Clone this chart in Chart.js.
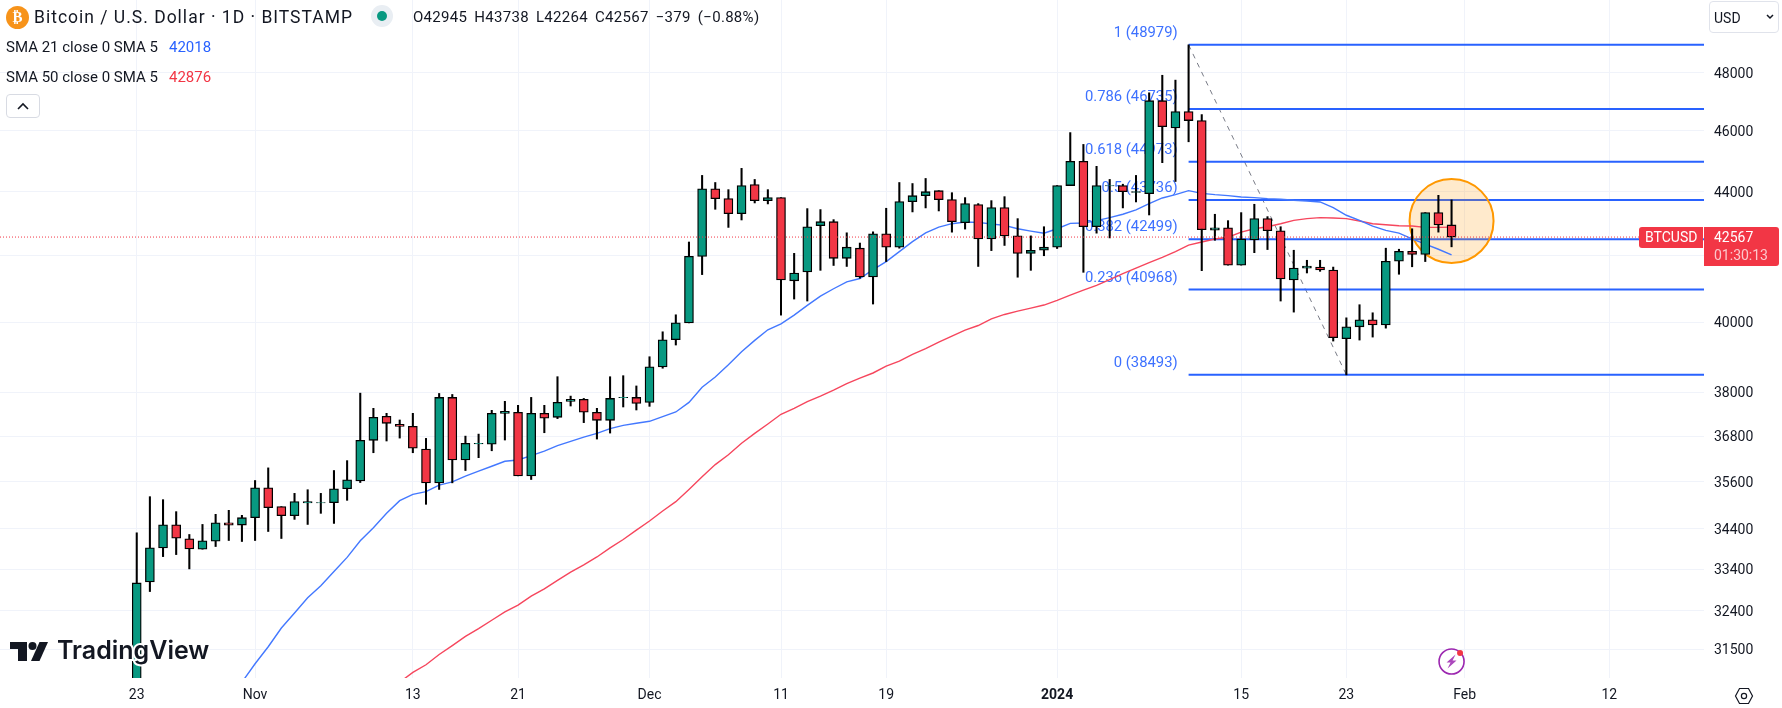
<!DOCTYPE html>
<html lang="en">
<head>
  <meta charset="UTF-8">
  <title>Bitcoin / U.S. Dollar 1D</title>
  <script src="https://cdn.jsdelivr.net/npm/chart.js"></script>
  <style>
    html, body { margin: 0; padding: 0; background: #fff; overflow: hidden; }
    #wrap { position: relative; width: 1782px; height: 708px; font-family: Roboto, sans-serif; color: #131722; }
    canvas { position: absolute; left: 0; top: 0; }
    .txt { position: absolute; white-space: pre; line-height: 20px; }
    .coin { position: absolute; left: 6px; top: 6px; width: 23px; height: 23px; border-radius: 50%; background: #f7931a; color: #fff; font: bold 15px/23px "DejaVu Sans"; text-align: center; }
    .status { position: absolute; left: 371px; top: 5px; width: 22px; height: 22px; border-radius: 50%; background: #e9eef3; }
    .status i { position: absolute; left: 6px; top: 6px; width: 10px; height: 10px; border-radius: 50%; background: #089981; }
    .collapse { position: absolute; left: 6px; top: 94px; width: 34px; height: 24px; border: 1px solid #d8dbe3; border-radius: 4px; box-sizing: border-box; }
    .usd { position: absolute; left: 1709px; top: 1px; width: 70px; height: 32px; border: 1px solid #e0e3eb; border-radius: 4px; box-sizing: border-box; }
  </style>
</head>
<body>
<div id="wrap">
  <canvas id="chartBtc" width="1782" height="708"></canvas>

  <div class="coin">₿</div>
  <div class="txt" style="left:34px;top:7px;font-size:17.5px;letter-spacing:1px">Bitcoin / U.S. Dollar · 1D · BITSTAMP</div>
  <div class="status"><i></i></div>
  <div class="txt" style="left:413px;top:7px;font-size:15px;word-spacing:3px;letter-spacing:.3px">O42945 H43738 L42264 C42567 −379 (−0.88%)</div>
  <div class="txt" style="left:6px;top:37px;font-size:15px">SMA 21 close 0 SMA 5</div>
  <div class="txt" style="left:169px;top:37px;font-size:15px;color:#2962ff">42018</div>
  <div class="txt" style="left:6px;top:67px;font-size:15px">SMA 50 close 0 SMA 5</div>
  <div class="txt" style="left:169px;top:67px;font-size:15px;color:#f23645">42876</div>
  <div class="collapse">
    <svg width="32" height="22"><path d="M11 14 L16 9 L21 14" fill="none" stroke="#131722" stroke-width="1.6"/></svg>
  </div>
  <div class="usd">
    <div class="txt" style="left:4px;top:6px;font-size:14px">USD</div>
    <svg width="68" height="30"><path d="M57 13 L60 16 L63 13" fill="none" stroke="#131722" stroke-width="1.5"/></svg>
  </div>
</div>

<script>
// daily candles, index 0 = 23 Oct 2023
const opens = [30000,33090,33925,34502,34150,33892,34092,34553,34494,34681,35447,34962,34732,35055,35055,35064,35421,35626,36696,37346,37127,37073,36461,35574,37864,36174,36600,36591,37427,37455,35756,37427,37318,37755,37809,37455,37236,37855,37864,37727,38718,39493,39981,41970,44095,43778,43302,44230,43714,43810,41228,41495,42921,43048,41911,42222,41347,42667,42254,43683,43873,44033,43746,43016,43587,42508,43492,42603,42063,42159,42254,44197,44986,42889,44186,44197,43979,43936,47023,46096,46650,46345,42783,42857,41703,42476,43143,42762,41257,41614,41644,41554,39522,39866,40069,39923,41822,42127,42032,43333,42945];
const highs = [34300,35217,35140,34834,34258,34510,34766,34868,34740,35635,35965,34962,35302,35396,35302,35896,36156,37982,37564,37427,37245,37427,36748,37973,37945,36809,36863,37509,37755,37645,37864,37645,38441,37900,37836,37564,38440,38469,38182,39005,39722,40218,42413,44526,44296,44066,44756,44395,44066,43810,42063,43460,43429,43111,42699,42381,42730,43471,44296,44263,44427,44033,43968,43810,43619,43714,43841,43143,42603,42889,44197,45940,45545,44822,44395,44241,44526,47294,47904,47734,48979,46548,43281,43080,43333,43598,43206,42889,42159,41851,41851,41644,40129,40515,40277,42222,42190,42825,43333,43884,43738];
const lows = [29900,32860,33709,33759,33408,33892,33958,34108,34083,34108,34333,34158,34638,34510,34791,34536,35123,35583,36365,36678,36756,36365,35021,35404,35574,35896,36234,36417,36704,35756,35661,36900,37282,37627,37173,36730,36891,37600,37518,37618,38679,39340,39981,41416,43439,42868,43101,43640,43609,40208,40683,40624,41545,41693,41663,41307,40535,41812,42222,43355,43482,43386,42719,42815,41663,42148,42307,41337,41545,41990,42212,44197,41485,42688,42540,43482,43672,43259,44943,44329,45633,41535,42466,41703,41703,42085,42180,40624,40297,41465,41515,39454,38493,39483,39569,39828,41426,41653,41812,42720,42264];
const closes = [33067,33925,34502,34167,33900,34100,34553,34494,34681,35447,34936,34732,35089,35089,35064,35421,35652,36696,37317,37155,37073,36487,35574,37864,36174,36617,36617,37427,37482,35756,37427,37291,37727,37809,37455,37236,37836,37864,37700,38718,39493,39981,41970,44095,43778,43302,44197,43714,43810,41257,41465,42889,43048,41911,42254,41347,42667,42254,43683,43873,44000,43746,43048,43619,42508,43492,42603,42063,42159,42254,44197,44986,42889,44197,44197,44000,44000,47023,46141,46650,46345,42794,42857,41703,42508,43143,42762,41287,41614,41673,41554,39550,39866,40069,39923,41822,42127,42032,43333,42945,42567];

// moving averages, first value belongs to candle index sma21Start / sma50Start
const sma21Start = 8;
const sma21 = [30755,31172,31562,31997,32350,32710,33002,33343,33690,34100,34425,34792,35115,35277,35345,35515,35600,35747,35878,36008,36139,36174,36287,36409,36556,36670,36783,36882,37009,37100,37155,37209,37336,37464,37727,38144,38431,38775,39148,39474,39780,39952,40208,40495,40772,40990,41198,41297,41564,41812,42116,42423,42699,42879,42984,43037,43027,42974,42931,42825,42752,42688,42825,42995,43005,43080,43175,43281,43418,43619,43799,43905,44033,43947,43905,43873,43831,43810,43778,43757,43725,43704,43672,43492,43249,43090,42910,42773,42688,42508,42349,42190,42018];
const sma50Start = 20;
const sma50 = [30755,30977,31150,31383,31587,31800,31982,32179,32376,32535,32749,32924,33130,33329,33508,33700,33925,34133,34367,34596,34851,35089,35404,35731,36052,36313,36617,36882,37136,37400,37564,37745,37900,38067,38249,38402,38545,38737,38880,39072,39234,39426,39598,39770,39904,40099,40228,40327,40416,40505,40644,40802,40950,41089,41267,41446,41614,41782,41941,42116,42317,42413,42508,42561,42720,42826,42889,42984,43090,43143,43175,43164,43143,43069,42984,42953,42921,42910,42868,42868,42876];

// fib retracement
const fibRatios = ['1','0.786','0.618','0.5','0.382','0.236','0'];
const fibPrices = [48979,46735,44973,43736,42499,40968,38493];
const fibStartIndex = 80;
const fibLowIndex = 92;

// highlighted circle around the last candle
const circleIndex = 100;
const circlePrice = 43067;
const circleRadius = 42;

const lastPrice = 42567;
const countdown = '01:30:13';

// axes
const yTickValues = [48000,46000,44000,42000,40000,38000,36800,35600,34400,33400,32400,31500];
const xTickIndexes = [0,9,21,29,39,49,57,70,84,92,101,112];
const xTickLabels = ['23','Nov','13','21','Dec','11','19','2024','15','23','Feb','12'];

const xMin = -10.4, xMax = 119.2;
const yMin = 30850, yMax = 50610;

const GREEN = '#089981';
const RED = '#f23645';
const BLUE = '#2962ff';

function pairs(start, values) {
  return values.map((v, i) => ({ x: start + i, y: v }));
}

const wickData = highs.map((h, i) => ({ x: i, y: [lows[i], h] }));
const bodyData = opens.map((o, i) => ({ x: i, y: [o, closes[i]] }));
const bodyColors = opens.map((o, i) => closes[i] >= o ? GREEN : RED);

const datasets = [
  { type: 'line', data: [{ x: xMin, y: lastPrice }, { x: xMax, y: lastPrice }], borderColor: RED, borderWidth: 1, borderDash: [1, 2], pointRadius: 0, order: 0 },
  { type: 'bar', data: bodyData, backgroundColor: bodyColors, borderColor: '#000', borderWidth: 1.3, borderSkipped: false, barThickness: 9, grouped: false, order: 1 },
  { type: 'bar', data: wickData, backgroundColor: '#000', barThickness: 1.4, grouped: false, order: 2 },
  { type: 'line', data: pairs(sma21Start, sma21), borderColor: '#4378ff', borderWidth: 1.4, pointRadius: 0, tension: 0, order: 3 },
  { type: 'line', data: pairs(sma50Start, sma50), borderColor: '#f6465d', borderWidth: 1.4, pointRadius: 0, tension: 0, order: 4 },
  { type: 'bubble', data: [{ x: circleIndex, y: circlePrice, r: circleRadius }], backgroundColor: 'rgba(255,152,0,0.2)', borderColor: '#ff9800', borderWidth: 2, order: 5 }
];

fibPrices.forEach(function(p) {
  datasets.push({ type: 'line', data: [{ x: fibStartIndex, y: p }, { x: xMax, y: p }], borderColor: BLUE, borderWidth: 2, pointRadius: 0, order: 6 });
});
datasets.push({
  type: 'line',
  data: [{ x: fibStartIndex, y: fibPrices[0] }, { x: fibLowIndex, y: fibPrices[6] }],
  borderColor: '#787b86', borderWidth: 1, borderDash: [5, 5], pointRadius: 0, order: 7
});

// fib labels sit behind the candles
const fibLabels = {
  id: 'fibLabels',
  beforeDatasetsDraw(chart) {
    const ctx = chart.ctx, xs = chart.scales.x, ys = chart.scales.y;
    ctx.save();
    ctx.font = '14.8px Roboto';
    ctx.fillStyle = '#3d71ff';
    ctx.textAlign = 'right';
    ctx.textBaseline = 'middle';
    fibPrices.forEach(function(p, i) {
      ctx.fillText(fibRatios[i] + ' (' + p + ')', xs.getPixelForValue(fibStartIndex) - 11, ys.getPixelForValue(p) - 11.5);
    });
    ctx.restore();
  }
};

function drawLogo(ctx) {
  ctx.save();
  ctx.fillStyle = '#131722';
  ctx.fillRect(10, 642, 17, 7);
  ctx.fillRect(18, 649, 9, 12);
  ctx.beginPath();
  ctx.arc(32.5, 646, 4, 0, Math.PI * 2);
  ctx.fill();
  ctx.beginPath();
  ctx.moveTo(39.5, 642);
  ctx.lineTo(48, 642);
  ctx.lineTo(39.5, 661);
  ctx.lineTo(31, 661);
  ctx.closePath();
  ctx.fill();
  ctx.font = '600 25px Inter';
  ctx.textAlign = 'left';
  ctx.textBaseline = 'middle';
  ctx.lineWidth = 4;
  ctx.strokeStyle = '#fff';
  ctx.strokeText('TradingView', 57, 651);
  ctx.fillText('TradingView', 57, 651);
  ctx.restore();
}

function drawBolt(ctx, x, y) {
  ctx.save();
  ctx.strokeStyle = '#9c27b0';
  ctx.lineWidth = 1.6;
  ctx.beginPath();
  ctx.arc(x, y, 12.5, 0, Math.PI * 2);
  ctx.stroke();
  ctx.fillStyle = '#ab47bc';
  ctx.beginPath();
  ctx.moveTo(x + 4, y - 7);
  ctx.lineTo(x - 5, y + 1);
  ctx.lineTo(x - 1, y + 1);
  ctx.lineTo(x - 4, y + 7);
  ctx.lineTo(x + 5, y - 1);
  ctx.lineTo(x + 1, y - 1);
  ctx.closePath();
  ctx.fill();
  ctx.fillStyle = RED;
  ctx.beginPath();
  ctx.arc(x + 8.5, y - 8.5, 3, 0, Math.PI * 2);
  ctx.fill();
  ctx.restore();
}

function drawGear(ctx, x, y) {
  ctx.save();
  ctx.strokeStyle = '#131722';
  ctx.lineWidth = 1.2;
  ctx.beginPath();
  ctx.moveTo(x - 8.5, y);
  ctx.lineTo(x - 4.5, y - 7.5);
  ctx.lineTo(x + 4.5, y - 7.5);
  ctx.lineTo(x + 8.5, y);
  ctx.lineTo(x + 4.5, y + 7.5);
  ctx.lineTo(x - 4.5, y + 7.5);
  ctx.closePath();
  ctx.stroke();
  ctx.beginPath();
  ctx.arc(x, y, 2.6, 0, Math.PI * 2);
  ctx.stroke();
  ctx.restore();
}

// price tags, logo and the little icons go on top of everything
const overlays = {
  id: 'overlays',
  afterDraw(chart) {
    const ctx = chart.ctx, ys = chart.scales.y, xs = chart.scales.x;
    const py = ys.getPixelForValue(lastPrice);
    const top = py - 10;
    ctx.save();
    ctx.fillStyle = RED;
    ctx.beginPath();
    ctx.roundRect(1639, top, 64, 21, [3, 0, 0, 3]);
    ctx.fill();
    ctx.beginPath();
    ctx.roundRect(1704, top, 75, 39, [0, 3, 3, 0]);
    ctx.fill();
    ctx.fillStyle = '#fff';
    ctx.textBaseline = 'middle';
    ctx.textAlign = 'left';
    ctx.font = '14px Roboto';
    ctx.fillText('BTCUSD', 1645, top + 11);
    ctx.fillText(String(lastPrice), 1714, top + 11);
    ctx.fillStyle = 'rgba(255,255,255,0.72)';
    ctx.fillText(countdown, 1714, top + 29);
    ctx.restore();
    drawLogo(ctx);
    drawBolt(ctx, xs.getPixelForValue(circleIndex), 661.5);
    drawGear(ctx, 1744, 696);
  }
};

new Chart(document.getElementById('chartBtc'), {
  type: 'bar',
  data: { datasets: datasets },
  plugins: [fibLabels, overlays],
  options: {
    responsive: false,
    animation: false,
    devicePixelRatio: 1,
    events: [],
    // the bubble radius must not push the plot area in
    layout: { padding: 0, autoPadding: false },
    plugins: { legend: { display: false }, tooltip: { enabled: false } },
    scales: {
      x: {
        type: 'linear',
        min: xMin,
        max: xMax,
        offset: false,
        afterFit(axis) { axis.height = 30; axis.paddingLeft = 0; axis.paddingRight = 0; },
        afterBuildTicks(axis) { axis.ticks = xTickIndexes.map(v => ({ value: v })); },
        grid: { color: '#f0f3fa', offset: false, drawTicks: false },
        border: { display: false },
        ticks: {
          autoSkip: false,
          maxRotation: 0,
          padding: 9,
          color: '#131722',
          font: ctx => ({ family: 'Roboto', size: 14, weight: ctx.tick && ctx.tick.value === 70 ? 'bold' : 'normal' }),
          callback: v => xTickLabels[xTickIndexes.indexOf(v)]
        }
      },
      y: {
        type: 'logarithmic',
        position: 'right',
        min: yMin,
        max: yMax,
        // label overhang would otherwise push the plot down from the top edge
        afterFit(axis) { axis.width = 78; axis.paddingTop = 0; axis.paddingBottom = 0; },
        afterBuildTicks(axis) { axis.ticks = yTickValues.map(v => ({ value: v })); },
        grid: { color: '#f0f3fa', drawTicks: false },
        border: { display: false },
        ticks: {
          autoSkip: false,
          padding: 10,
          labelOffset: 1.5,
          color: '#131722',
          font: { family: 'Roboto', size: 14 },
          // 42000 is hidden by the price tag
          callback: v => v === 42000 ? '' : String(v)
        }
      }
    }
  }
});
</script>
</body>
</html>
